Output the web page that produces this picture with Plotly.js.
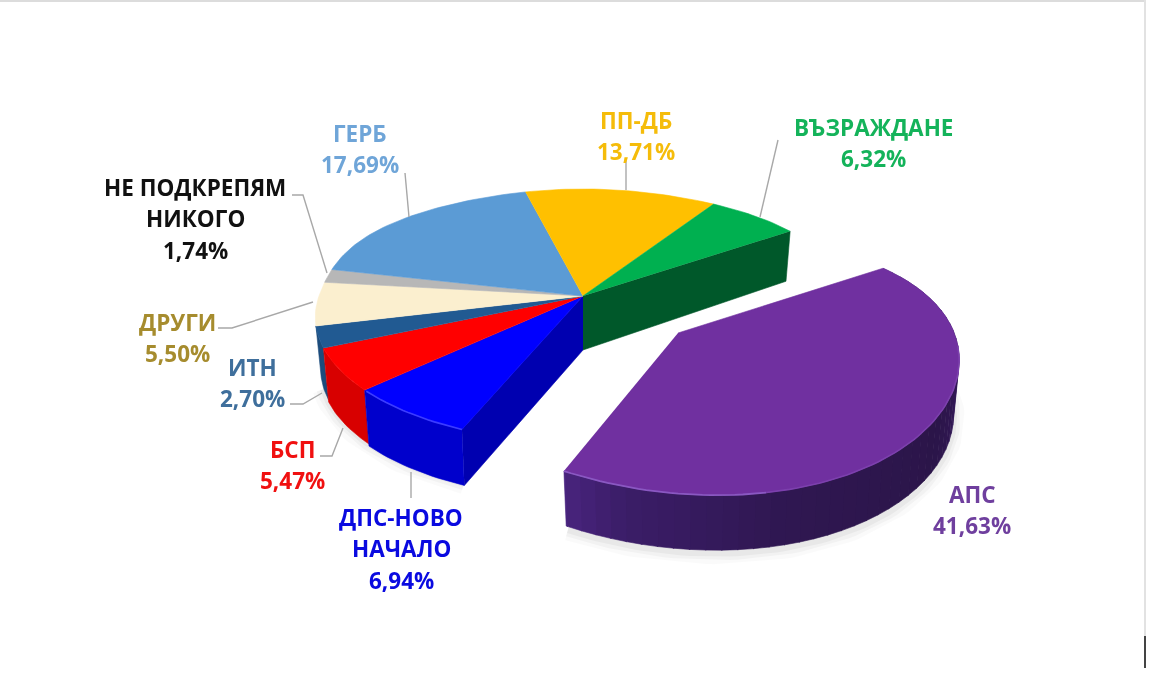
<!DOCTYPE html>
<html><head><meta charset="utf-8">
<script src="https://cdn.plot.ly/plotly-3.0.1.min.js"></script>
<style>html,body{margin:0;padding:0;background:#fff;overflow:hidden}#chart{width:1152px;height:688px;filter:blur(0.6px)}</style>
</head><body><div id="chart"></div>
<script>
// ---- data ----
const parties = ["АПС","ДПС-НОВО НАЧАЛО","БСП","ИТН","ДРУГИ","НЕ ПОДКРЕПЯМ НИКОГО","ГЕРБ","ПП-ДБ","ВЪЗРАЖДАНЕ"];
const shares  = [41.63,6.94,5.47,2.70,5.50,1.74,17.69,13.71,6.32];
const shareLabels = ["41,63%","6,94%","5,47%","2,70%","5,50%","1,74%","17,69%","13,71%","6,32%"];
// ---- styling ----
const topColors = ["#7030a0","#0000ff","#ff0000","#215a92","#fbefcf","#b7b7b7","#5b9bd5","#ffc000","#00b050"];
const rimColors = [null,"#0000cc","#d80000","#1c4c7c",null,null,null,null,null];
const textColors = ["#6f3f9e","#0a0ae0","#f01010","#3f6f9c","#a68c2e","#111111","#6fa5d8","#f5bc0a","#14b35a"];
const labelLines = [["АПС"],["ДПС-НОВО","НАЧАЛО"],["БСП"],["ИТН"],["ДРУГИ"],["НЕ ПОДКРЕПЯМ","НИКОГО"],["ГЕРБ"],["ПП-ДБ"],["ВЪЗРАЖДАНЕ"]];
const labelAnchor = [[972,494],[401,517],[292,449],[252,367],[177,322],[195,187],[360,133],[636,120],[873,127]];
const lineStep = 31.7;
const leaders = [
 "M405,173 L409,217","M626,160 L626,190","M778,140 L760,217",
 "M292,195 L303,195 L327,273","M218,328 L232,328 L313,302",
 "M290,404 L303,404 L322,393","M320,456 L332,456 L343,428","M411,472 L411,498"
];
// ---- projection of the tilted disc ----
const C = {x:583,y:296}, APEX = {x:678,y:333}, DEPTH = 52, START = 56;
const rad = d => d*Math.PI/180;
const total = shares.reduce((a,b)=>a+b,0);
const bounds = [START]; shares.forEach(s=>bounds.push(bounds[bounds.length-1]+360*s/total));
function rimPt(deg, exploded){
  const v=Math.cos(rad(deg)), u=Math.sin(rad(deg));
  let dx=u*(264-45*v), dy=-v*(127-20*v);
  if(exploded){
    const b=Math.sin(Math.PI*(deg-bounds[0])/(bounds[1]-bounds[0]));
    dx=dx*(1+0.03*b)+7; dy=dy*(1+0.13*b)+5*Math.max(0,-v);
    return {x:APEX.x+dx,y:APEX.y+dy};
  }
  if(v>0) dx+=u*80*v*v*(1-v);
  return {x:C.x+dx,y:C.y+dy};
}
function arc(a,b,ex){const n=Math.max(2,Math.ceil(Math.abs(b-a)/1.5));const o=[];for(let i=0;i<=n;i++)o.push(rimPt(a+(b-a)*i/n,ex));return o;}
const drop=(p,c,d)=>({x:c.x+(p.x-c.x)*0.98,y:p.y+d});
const poly=(pts,color)=>({type:"scatter",mode:"lines",x:pts.map(p=>p.x),y:pts.map(p=>p.y),fill:"toself",fillcolor:color,line:{color:color,width:0.6},hoverinfo:"skip",showlegend:false});
const stroke=(pts,color,w)=>({type:"scatter",mode:"lines",x:pts.map(p=>p.x),y:pts.map(p=>p.y),line:{color:color,width:w},hoverinfo:"skip",showlegend:false});
const traces=[];
// soft shadows
[[22,.018],[14,.03],[7,.04]].forEach(([w,o])=>{
  traces.push(stroke(arc(85,203,true).map(p=>drop(p,APEX,55+3)),`rgba(0,0,0,${o})`,w));
  traces.push(stroke(arc(bounds[1],bounds[4]-4,false).map(p=>drop(p,C,DEPTH+2)),`rgba(0,0,0,${o})`,w));
});
// walls of the main body
const vEnd=rimPt(bounds[0],false), dStart=rimPt(bounds[1],false);
traces.push(poly([C,vEnd,drop(vEnd,C,DEPTH-2),drop(C,C,DEPTH+2)],"#00582a"));
traces.push(poly([C,dStart,drop(dStart,C,DEPTH+4),drop(C,C,DEPTH+2)],"#0000b0"));
[3,2,1].forEach(i=>{
  const a=arc(bounds[i],bounds[i+1],false);
  traces.push(poly(a.concat(a.slice().reverse().map(p=>drop(p,C,DEPTH+(i===1?4:i===2?2:0)))),rimColors[i]));
});
// exploded slice wall with shading stops
const stops=[[56,"#4a2a7a"],[90,"#37195f"],[120,"#2b1549"],[160,"#2f1751"],[190,"#3b1d68"],[203,"#4a2580"]];
const hex=c=>[1,3,5].map(i=>parseInt(c.substr(i,2),16));
function shade(d){for(let i=1;i<stops.length;i++){if(d<=stops[i][0]){const t=(d-stops[i-1][0])/(stops[i][0]-stops[i-1][0]);const A=hex(stops[i-1][1]),B=hex(stops[i][1]);return "rgb("+A.map((v,k)=>Math.round(v+(B[k]-v)*t)).join(",")+")";}}return stops[stops.length-1][1];}
for(let d=bounds[0];d<bounds[1]-0.01;d+=3){
  const e=Math.min(d+3.2,bounds[1]);
  const a=arc(d,e,true);
  traces.push(poly(a.concat(a.slice().reverse().map(p=>drop(p,APEX,55))),shade(d)));
}
// top faces
traces.push(poly([APEX].concat(arc(bounds[0],bounds[1],true)),topColors[0]));
for(let i=1;i<shares.length;i++){
  traces.push(poly([C].concat(arc(bounds[i],bounds[i+1],false)),topColors[i]));
}
// rim highlights
traces.push(stroke(arc(bounds[1],bounds[1]+24,false),"#3c3cff",1.6));
traces.push(stroke(arc(165,bounds[1],true),"#8a58c2",1.8));
traces.push(stroke(arc(95,165,true),"#7c40ad",1.6));
// labels
const annotations=[];
parties.forEach((p,i)=>{
  const a=labelAnchor[i];
  labelLines[i].concat([shareLabels[i]]).forEach((txt,k)=>{
    annotations.push({x:a[0],y:a[1]+k*lineStep,xref:"x",yref:"y",text:"<b>"+txt+"</b>",showarrow:false,xanchor:"center",yanchor:"middle",
      font:{family:"Open Sans, Noto Sans, sans-serif",size:22.5,color:textColors[i]}});
  });
});
const shapes=leaders.map(d=>({type:"path",path:d,xref:"x",yref:"y",line:{color:"#a8a8a8",width:1.4}}));
shapes.push({type:"line",xref:"x",yref:"y",x0:0,y0:1,x1:1145,y1:1,line:{color:"#dcdcdc",width:2}});
shapes.push({type:"line",xref:"x",yref:"y",x0:1145,y0:0,x1:1145,y1:636,line:{color:"#e2e2e2",width:2}});
shapes.push({type:"line",xref:"x",yref:"y",x0:1145,y0:636,x1:1145,y1:668,line:{color:"#444444",width:2}});
Plotly.newPlot("chart",traces,{
  width:1152,height:688,margin:{l:0,r:0,t:0,b:0},paper_bgcolor:"#fff",plot_bgcolor:"#fff",showlegend:false,
  xaxis:{range:[0,1152],visible:false,fixedrange:true},
  yaxis:{range:[688,0],visible:false,fixedrange:true},
  annotations:annotations,shapes:shapes
},{displayModeBar:false,staticPlot:true});
</script></body></html>
